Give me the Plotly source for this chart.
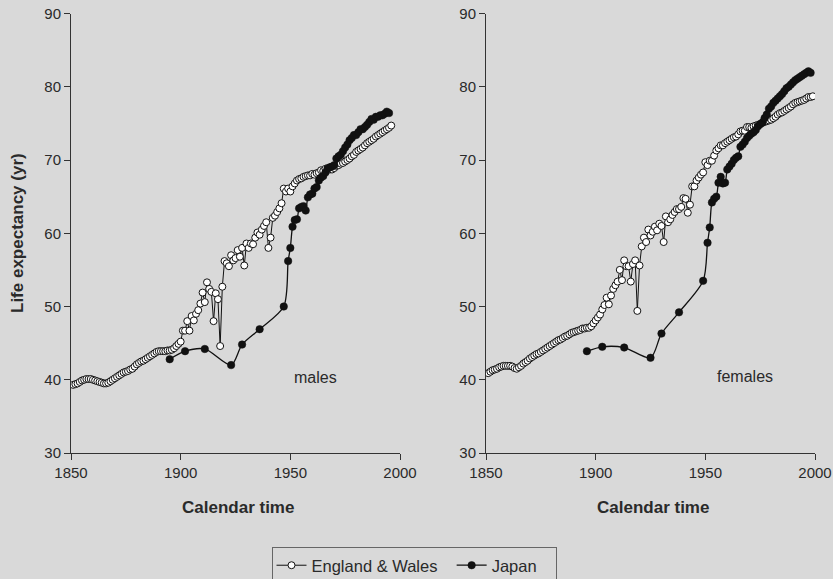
import plotly.graph_objects as go

# ---------------- data ----------------
ew_years_m = list(range(1851, 1997))
ew_male = [
    39.3, 39.4, 39.5, 39.7, 39.9, 40.0, 40.1, 40.1, 40.1, 40.0,   # 1851-1860
    39.9, 39.8, 39.7, 39.6, 39.5, 39.5, 39.6, 39.8, 40.0, 40.2,   # 1861-1870
    40.4, 40.6, 40.8, 41.0, 41.1, 41.2, 41.4, 41.5, 41.8, 42.1,   # 1871-1880
    42.3, 42.5, 42.6, 42.8, 43.0, 43.2, 43.4, 43.6, 43.8, 43.9,   # 1881-1890
    43.9, 43.9, 43.9, 44.0, 44.0, 44.1, 44.3, 44.6, 44.9, 45.2,   # 1891-1900
    46.7, 46.7, 48.0, 46.7, 48.7, 48.1, 49.0, 49.5, 50.4, 51.9,   # 1901-1910
    50.6, 53.3, 52.4, 52.0, 48.0, 51.8, 51.0, 44.6, 52.7, 56.2,   # 1911-1920
    55.9, 55.5, 57.0, 56.3, 56.6, 57.7, 56.8, 58.0, 55.6, 58.6,   # 1921-1930
    58.0, 58.6, 58.5, 59.4, 60.1, 59.8, 60.5, 61.0, 61.5, 58.0,   # 1931-1940
    59.4, 62.1, 62.4, 62.9, 63.4, 64.1, 66.1, 65.7, 66.1, 65.7,   # 1941-1950
    66.4, 66.8, 67.2, 67.4, 67.5, 67.7, 67.8, 67.9, 67.9, 68.1,   # 1951-1960
    68.0, 68.2, 68.3, 68.6, 68.5, 68.8, 68.9, 68.7, 68.7, 68.9,   # 1961-1970
    69.2, 69.3, 69.5, 69.6, 69.8, 70.0, 70.2, 70.5, 70.7, 71.1,   # 1971-1980
    71.3, 71.5, 71.7, 72.0, 72.3, 72.5, 72.7, 72.9, 73.2, 73.4,   # 1981-1990
    73.6, 73.8, 74.0, 74.2, 74.4, 74.7,                           # 1991-1996
]

jp_years_m = [1895, 1902, 1911, 1923, 1928, 1936, 1947] + list(range(1949, 1996))
jp_male = [
    42.8, 43.9, 44.2, 42.0, 44.8, 46.9, 50.0,
    56.2, 58.0, 60.9, 61.8, 61.9, 63.4, 63.6, 63.7, 63.1, 64.9,   # 1949-1958
    65.3, 65.4, 66.1, 66.3, 67.2, 67.6, 67.8, 68.3, 68.8, 69.0,   # 1959-1968
    69.1, 69.3, 70.2, 70.5, 70.7, 71.2, 71.7, 72.1, 72.7, 73.0,   # 1969-1978
    73.4, 73.4, 73.8, 74.2, 74.2, 74.5, 74.8, 75.2, 75.6, 75.5,   # 1979-1988
    75.9, 75.9, 76.1, 76.1, 76.3, 76.6, 76.4,                     # 1989-1995
]

ew_years_f = list(range(1851, 2000))
ew_female = [
    40.9, 41.1, 41.3, 41.4, 41.5, 41.7, 41.8, 41.9, 41.9, 41.9,   # 1851-1860
    41.9, 41.8, 41.6, 41.5, 41.7, 41.9, 42.2, 42.4, 42.6, 42.9,   # 1861-1870
    43.1, 43.3, 43.5, 43.6, 43.8, 44.0, 44.2, 44.4, 44.6, 44.8,   # 1871-1880
    45.0, 45.2, 45.4, 45.5, 45.7, 45.9, 46.0, 46.2, 46.4, 46.5,   # 1881-1890
    46.6, 46.7, 46.8, 47.0, 47.0, 47.1, 47.1, 47.3, 47.7, 48.1,   # 1891-1900
    48.5, 48.9, 49.6, 50.2, 51.2, 50.3, 51.5, 52.4, 52.9, 53.4,   # 1901-1910
    55.0, 53.6, 56.3, 55.5, 55.5, 53.4, 55.8, 56.3, 49.4, 55.6,   # 1911-1920
    58.2, 59.4, 58.8, 60.5, 59.7, 60.2, 60.9, 60.4, 61.3, 61.0,   # 1921-1930
    58.8, 62.3, 61.5, 61.9, 62.5, 62.9, 63.3, 63.3, 63.6, 64.8,   # 1931-1940
    64.7, 62.8, 63.9, 66.4, 66.4, 67.2, 67.6, 68.0, 68.3, 69.7,   # 1941-1950
    69.3, 69.9, 69.9, 70.6, 71.3, 71.6, 72.0, 72.0, 72.3, 72.5,   # 1951-1960
    72.7, 72.9, 73.1, 73.2, 73.5, 73.9, 74.0, 74.0, 74.5, 74.5,   # 1961-1970
    74.4, 74.6, 74.7, 74.8, 74.9, 75.1, 75.2, 75.3, 75.4, 75.5,   # 1971-1980
    75.7, 75.9, 76.2, 76.4, 76.5, 76.7, 76.9, 77.1, 77.3, 77.6,   # 1981-1990
    77.8, 77.9, 78.0, 78.1, 78.2, 78.4, 78.6, 78.6, 78.7,         # 1991-1999
]

jp_years_f = [1896, 1903, 1913, 1925, 1930, 1938, 1949] + list(range(1951, 1999))
jp_female = [
    43.9, 44.5, 44.4, 43.0, 46.3, 49.2, 53.5,
    58.7, 60.8, 64.2, 64.7, 65.0, 66.9, 67.7, 66.8, 66.9, 68.7,   # 1951-1960
    69.1, 69.5, 70.0, 70.3, 70.5, 71.8, 72.1, 72.5, 73.0, 73.3,   # 1961-1970
    73.6, 73.8, 74.1, 74.6, 74.9, 75.1, 75.7, 76.2, 77.0, 77.3,   # 1971-1980
    77.8, 78.1, 78.4, 78.7, 79.0, 79.4, 79.8, 80.0, 80.3, 80.6,   # 1981-1990
    80.9, 81.1, 81.3, 81.5, 81.7, 81.9, 82.1, 81.9,               # 1991-1998
]

x_ticks = [1850, 1900, 1950, 2000]
y_ticks = [30, 40, 50, 60, 70, 80, 90]
panel_labels = ["males", "females"]
series_names = ["England & Wales", "Japan"]

# ---------------- figure ----------------
BG = "#d9d9d9"
INK = "#2a2a2a"
FONT = "Liberation Sans, Arial, sans-serif"
NB = "\u00a0"

fig = go.Figure()

def add_panel(xs_ew, ys_ew, xs_jp, ys_jp, xa, ya, show):
    fig.add_trace(go.Scatter(
        x=xs_ew, y=ys_ew, mode="lines+markers", name=series_names[0] + NB * 2,
        line=dict(color="#111111", width=1),
        marker=dict(symbol="circle", size=7, color="white",
                    line=dict(color="#111111", width=1)),
        xaxis=xa, yaxis=ya, showlegend=show, legendgroup="ew"))
    fig.add_trace(go.Scatter(
        x=xs_jp, y=ys_jp, mode="lines+markers", name=series_names[1] + NB * 3,
        line=dict(color="#111111", width=1.3, shape="spline", smoothing=0.8),
        marker=dict(symbol="circle", size=7.5, color="#111111",
                    line=dict(color="#111111", width=0.5)),
        xaxis=xa, yaxis=ya, showlegend=show, legendgroup="jp"))

add_panel(ew_years_m, ew_male, jp_years_m, jp_male, "x", "y", True)
add_panel(ew_years_f, ew_female, jp_years_f, jp_female, "x2", "y2", False)

H = 579.0
W = 833.0
ydom = [1 - 453 / H, 1 - 13.5 / H]

axis_common = dict(
    showgrid=False, zeroline=False, showline=True, linecolor="#333333",
    linewidth=1, ticks="outside", ticklen=6, tickcolor="#333333",
    tickfont=dict(family=FONT, size=15, color=INK), mirror=False,
    automargin=False,
)

fig.update_layout(
    width=833, height=579,
    paper_bgcolor=BG, plot_bgcolor=BG,
    margin=dict(l=0, r=0, t=0, b=0, autoexpand=False),
    font=dict(family=FONT, color=INK),
    xaxis=dict(domain=[71 / W, 400 / W], range=[1850, 2000], tickvals=x_ticks,
               anchor="y", **axis_common),
    yaxis=dict(domain=ydom, range=[30, 90], tickvals=y_ticks, anchor="x",
               **axis_common),
    xaxis2=dict(domain=[486 / W, 815 / W], range=[1850, 2000], tickvals=x_ticks,
                anchor="y2", **axis_common),
    yaxis2=dict(domain=ydom, range=[30, 90], tickvals=y_ticks, anchor="x2",
                **axis_common),
    legend=dict(
        orientation="h", x=0.497, xanchor="center", y=1 - 547 / H, yanchor="top",
        bgcolor=BG, bordercolor="#666666", borderwidth=1,
        font=dict(family=FONT, size=16.5, color=INK),
        tracegroupgap=0,
    ),
    showlegend=True,
)

annos = [
    dict(text=panel_labels[0], x=1961.3, y=40.3, xref="x", yref="y", showarrow=False,
         font=dict(family=FONT, size=16, color=INK)),
    dict(text=panel_labels[1], x=1968.0, y=40.4, xref="x2", yref="y2", showarrow=False,
         font=dict(family=FONT, size=16, color=INK)),
    dict(text="<b>Calendar time</b>", x=238 / W, y=1 - 507 / H, xref="paper",
         yref="paper", xanchor="center", yanchor="middle", showarrow=False,
         font=dict(family=FONT, size=17, color=INK)),
    dict(text="<b>Calendar time</b>", x=653 / W, y=1 - 507 / H, xref="paper",
         yref="paper", xanchor="center", yanchor="middle", showarrow=False,
         font=dict(family=FONT, size=17, color=INK)),
    dict(text="<b>Life expectancy (yr)</b>", x=17 / W, y=1 - 233 / H, xref="paper",
         yref="paper", xanchor="center", yanchor="middle", showarrow=False,
         textangle=-90, font=dict(family=FONT, size=17, color=INK)),
]
fig.update_layout(annotations=annos)

fig.write_html("out.html")
